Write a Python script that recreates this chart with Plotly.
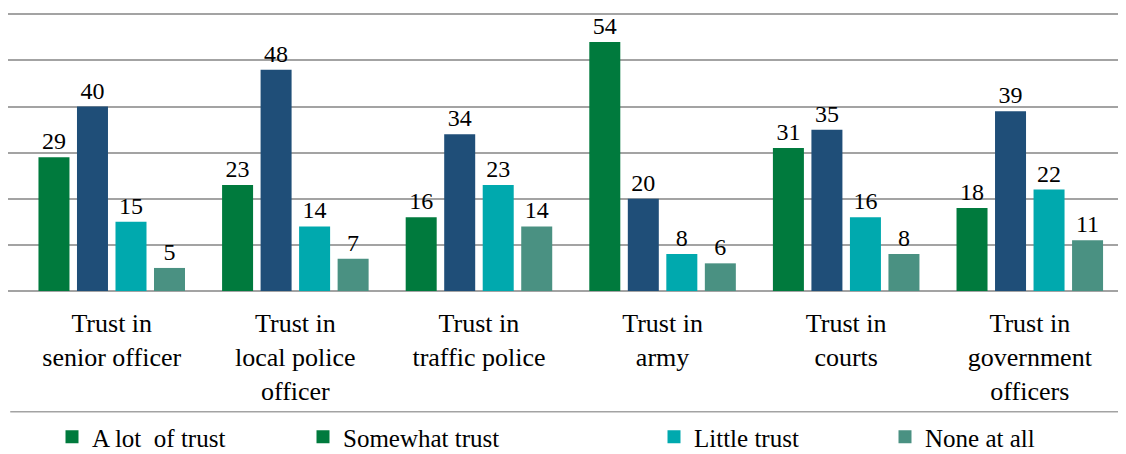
import plotly.graph_objects as go

categories = [
    "Trust in<br>senior officer",
    "Trust in<br>local police<br>officer",
    "Trust in<br>traffic police",
    "Trust in<br>army",
    "Trust in<br>courts",
    "Trust in<br>government<br>officers",
]
a_lot = [29, 23, 16, 54, 31, 18]
somewhat = [40, 48, 34, 20, 35, 39]
little = [15, 14, 23, 8, 16, 22]
none_at_all = [5, 7, 14, 6, 8, 11]

series_names = ["A lot  of trust", "Somewhat trust", "Little trust", "None at all"]
series_values = [a_lot, somewhat, little, none_at_all]
bar_colors = ["#007A3D", "#1F4E78", "#00A9AE", "#4A9182"]
legend_colors = ["#007A3D", "#007A3D", "#00A9AE", "#4A9182"]

FONT = "'Times New Roman', 'Liberation Serif', 'DejaVu Serif', serif"
OFF = 8  # page body margin offset
W, H = 1126 - OFF, 454 - OFF

fig = go.Figure()
for name, vals, col in zip(series_names, series_values, bar_colors):
    fig.add_trace(go.Bar(
        x=categories, y=vals, name=name, marker_color=col,
        marker_line_width=0,
        text=vals, textposition="outside", cliponaxis=False,
        textfont=dict(family=FONT, size=24, color="#000000"),
        showlegend=False,
    ))

legend_ids = ["legend", "legend2", "legend3", "legend4"]
legend_px = [52, 303, 654, 885]
for name, col, lid in zip(series_names, legend_colors, legend_ids):
    fig.add_trace(go.Scatter(
        x=[None], y=[None], mode="markers", name=name,
        marker=dict(symbol="square", size=13, color=col),
        legend=lid, showlegend=True,
    ))

legend_common = dict(
    xref="container", yref="container", xanchor="left", yanchor="middle",
    y=1 - (437 - OFF) / H, orientation="h", bgcolor="rgba(0,0,0,0)",
    font=dict(family=FONT, size=25, color="#000000"), itemwidth=30,
)
layout_legends = {}
for lid, px in zip(legend_ids, legend_px):
    layout_legends[lid] = dict(legend_common, x=(px - OFF) / W)

YMAX = 60.3
plot_h = 277 * YMAX / 60
top = 291 - plot_h - OFF
fig.update_layout(
    width=W, height=H,
    margin=dict(l=0, r=0, t=top, b=H - (291 - OFF)),
    paper_bgcolor="white", plot_bgcolor="white",
    barmode="group", bargap=0.161, bargroupgap=0.195,
    font=dict(family=FONT, size=26, color="#000000"),
    xaxis=dict(
        range=[-0.565, 5.524],
        showgrid=False, showline=False, zeroline=False, ticks="",
        tickfont=dict(family=FONT, size=26, color="#000000"),
        ticklabelstandoff=14,
    ),
    yaxis=dict(
        range=[0, YMAX], dtick=10, showticklabels=False,
        showgrid=True, gridcolor="#A3A3A3", gridwidth=1.6,
        zeroline=True, zerolinecolor="#A3A3A3", zerolinewidth=1.6,
        showline=False, ticks="",
    ),
    shapes=[dict(
        type="line", xref="paper", yref="paper",
        x0=0.002, x1=1.0, y0=(291 - 412) / plot_h, y1=(291 - 412) / plot_h,
        line=dict(color="#A3A3A3", width=1.5),
    )],
    **layout_legends,
)

fig.write_html("out.html")
